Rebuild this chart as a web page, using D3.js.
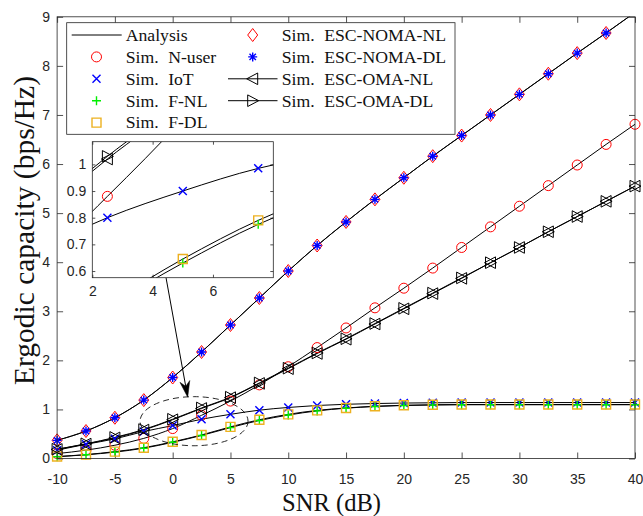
<!DOCTYPE html>
<html>
<head>
<meta charset="utf-8">
<script src="https://cdn.jsdelivr.net/npm/d3@7/dist/d3.min.js"></script>
<style>
  body { margin: 0; background: #fff; }
  svg { display: block; }
</style>
</head>
<body>
<svg id="chart" width="643" height="516"></svg>
<script>
// SNR grid (dB) shared by every series
const snr = [-10, -7.5, -5, -2.5, 0, 2.5, 5, 7.5, 10, 12.5, 15, 17.5, 20, 22.5, 25, 27.5, 30, 32.5, 35, 37.5, 40];

// Ergodic capacity (bps/Hz)
const escNomaNL = [0.37, 0.56, 0.83, 1.19, 1.65, 2.17, 2.72, 3.27, 3.82, 4.34, 4.82, 5.28, 5.72, 6.16, 6.58, 7.00, 7.42, 7.84, 8.26, 8.67, 9.09];
const escNomaDL = [0.37, 0.56, 0.83, 1.19, 1.65, 2.17, 2.72, 3.27, 3.82, 4.34, 4.82, 5.28, 5.72, 6.16, 6.58, 7.00, 7.42, 7.84, 8.26, 8.67, 9.09];
const nUser     = [0.10, 0.17, 0.27, 0.41, 0.61, 0.88, 1.17, 1.50, 1.87, 2.26, 2.66, 3.07, 3.47, 3.88, 4.30, 4.72, 5.14, 5.56, 5.98, 6.40, 6.81];
const iotUser   = [0.17, 0.29, 0.40, 0.55, 0.67, 0.80, 0.90, 0.985, 1.04, 1.08, 1.105, 1.12, 1.13, 1.135, 1.14, 1.14, 1.14, 1.14, 1.14, 1.14, 1.14];
const fNL       = [0.035, 0.075, 0.13, 0.21, 0.33, 0.47, 0.63, 0.775, 0.885, 0.97, 1.025, 1.06, 1.08, 1.09, 1.095, 1.095, 1.095, 1.095, 1.095, 1.095, 1.095];
const fDL       = [0.04, 0.08, 0.14, 0.22, 0.34, 0.48, 0.645, 0.79, 0.90, 0.98, 1.03, 1.065, 1.085, 1.095, 1.10, 1.10, 1.10, 1.10, 1.10, 1.10, 1.10];
const escOmaNL  = [0.185, 0.295, 0.42, 0.58, 0.79, 1.02, 1.24, 1.53, 1.83, 2.14, 2.43, 2.74, 3.05, 3.36, 3.67, 3.99, 4.30, 4.62, 4.93, 5.24, 5.55];
const escOmaDL  = [0.19, 0.30, 0.43, 0.59, 0.80, 1.03, 1.25, 1.54, 1.84, 2.15, 2.44, 2.75, 3.06, 3.37, 3.68, 3.99, 4.30, 4.62, 4.93, 5.24, 5.55];

// Tick values
const xTicks = [-10, -5, 0, 5, 10, 15, 20, 25, 30, 35, 40];
const yTicks = [0, 1, 2, 3, 4, 5, 6, 7, 8, 9];
const insetXTicks = [2, 4, 6];
const insetYTicks = [0.6, 0.7, 0.8, 0.9, 1];

// Texts
const xLabel = "SNR (dB)";
const yLabel = "Ergodic capacity (bps/Hz)";
const legendCol1 = ["Analysis", "Sim. N-user", "Sim. IoT", "Sim. F-NL", "Sim. F-DL"];
const legendCol2 = ["Sim. ESC-NOMA-NL", "Sim. ESC-NOMA-DL", "Sim. ESC-OMA-NL", "Sim. ESC-OMA-DL"];

// Series: values, marker and colour
const series = [
  { values: nUser,     marker: "o", color: "#ff0000" },
  { values: iotUser,   marker: "x", color: "#0000ff" },
  { values: fNL,       marker: "+", color: "#00ee00" },
  { values: fDL,       marker: "s", color: "#edb120" },
  { values: escNomaNL, marker: "d", color: "#ff0000" },
  { values: escNomaDL, marker: "*", color: "#0000ff" },
  { values: escOmaNL,  marker: "<", color: "#000000" },
  { values: escOmaDL,  marker: ">", color: "#000000" }
];

const svg = d3.select("#chart");
const axisColor = "#262626";
const sansFont = "'Liberation Sans', Arial, Helvetica, sans-serif";
const serifFont = "'Liberation Serif', 'Times New Roman', serif";

// Main axes area
const plot = { left: 57.1, right: 635, top: 16.8, bottom: 458.5 };
const x = d3.scaleLinear().domain([-10, 40]).range([plot.left, plot.right]);
const y = d3.scaleLinear().domain([0, 9]).range([plot.bottom, plot.top]);

// Marker shapes
function markerPath(type) {
  switch (type) {
    case "o": return "M5,0A5,5 0 1,1 -5,0A5,5 0 1,1 5,0Z";
    case "x": return "M-4,-4L4,4M-4,4L4,-4";
    case "+": return "M-4.5,0H4.5M0,-4.5V4.5";
    case "s": return "M-4.5,-4.5H4.5V4.5H-4.5Z";
    case "d": return "M0,-6.5L5,0L0,6.5L-5,0Z";
    case "*": return "M-4.5,0H4.5M0,-4.5V4.5M-3.2,-3.2L3.2,3.2M-3.2,3.2L3.2,-3.2";
    case "<": return "M-6,0L5,-5.8L5,5.8Z";
    case ">": return "M6,0L-5,-5.8L-5,5.8Z";
  }
}
function markerWidth(type) {
  return (type === "x" || type === "+" || type === "*" || type === "s") ? 1.4 : 1;
}
function addMarker(g, type, color, px, py) {
  g.append("path")
    .attr("d", markerPath(type))
    .attr("transform", `translate(${px},${py})`)
    .attr("fill", "none")
    .attr("stroke", color)
    .attr("stroke-width", markerWidth(type));
}

// Clip for curves
const defs = svg.append("defs");
defs.append("clipPath").attr("id", "plotClip")
  .append("rect").attr("x", plot.left).attr("y", plot.top)
  .attr("width", plot.right - plot.left).attr("height", plot.bottom - plot.top);

// Axes (ticks inward on all four sides)
const tickLen = 6;
const fmt = d => String(d);

const gx = svg.append("g").attr("transform", `translate(0,${plot.bottom})`)
  .call(d3.axisBottom(x).tickValues(xTicks).tickFormat(fmt).tickSizeInner(-tickLen).tickSizeOuter(0).tickPadding(16));
const gxTop = svg.append("g").attr("transform", `translate(0,${plot.top})`)
  .call(d3.axisTop(x).tickValues(xTicks).tickFormat("").tickSizeInner(-tickLen).tickSizeOuter(0));
const gy = svg.append("g").attr("transform", `translate(${plot.left},0)`)
  .call(d3.axisLeft(y).tickValues(yTicks).tickFormat(fmt).tickSizeInner(-tickLen).tickSizeOuter(0).tickPadding(7));
const gyRight = svg.append("g").attr("transform", `translate(${plot.right},0)`)
  .call(d3.axisRight(y).tickValues(yTicks).tickFormat("").tickSizeInner(-tickLen).tickSizeOuter(0));

[gx, gxTop, gy, gyRight].forEach(g => {
  g.select(".domain").remove();
  g.selectAll("line").attr("stroke", axisColor).attr("stroke-width", 0.8);
  g.selectAll("text").attr("fill", axisColor).style("font-family", sansFont).style("font-size", "14px");
});

// Curves
const line = d3.line().x(d => x(d[0])).y(d => y(d[1])).curve(d3.curveMonotoneX);
const curves = svg.append("g").attr("clip-path", "url(#plotClip)");
series.forEach(s => {
  curves.append("path")
    .attr("d", line(snr.map((v, i) => [v, s.values[i]])))
    .attr("fill", "none").attr("stroke", "#000").attr("stroke-width", 1);
});

// Markers (only points inside the axis limits)
const markers = svg.append("g");
series.forEach(s => {
  snr.forEach((v, i) => {
    const val = s.values[i];
    if (val >= 0 && val <= 9) addMarker(markers, s.marker, s.color, x(v), y(val));
  });
});

// Box
svg.append("rect")
  .attr("x", plot.left).attr("y", plot.top)
  .attr("width", plot.right - plot.left).attr("height", plot.bottom - plot.top)
  .attr("fill", "none").attr("stroke", axisColor).attr("stroke-width", 0.8);

// Axis labels
svg.append("text")
  .attr("x", 331.5).attr("y", 510.5)
  .attr("text-anchor", "middle")
  .attr("textLength", 99).attr("lengthAdjust", "spacingAndGlyphs")
  .style("font-family", serifFont).style("font-size", "26px").attr("fill", "#111")
  .text(xLabel);
svg.append("text")
  .attr("transform", "translate(33.5,230.5) rotate(-90)")
  .attr("text-anchor", "middle")
  .style("font-family", serifFont).style("font-size", "29.5px").attr("fill", "#111")
  .text(yLabel);

// Zoom region ellipse and arrow
const zoomCenter = [1.85, 0.76], zoomRadius = [4.67, 0.5];
svg.append("ellipse")
  .attr("cx", x(zoomCenter[0])).attr("cy", y(zoomCenter[1]))
  .attr("rx", x(zoomCenter[0] + zoomRadius[0]) - x(zoomCenter[0]))
  .attr("ry", y(zoomCenter[1]) - y(zoomCenter[1] + zoomRadius[1]))
  .attr("fill", "none").attr("stroke", "#111").attr("stroke-width", 0.9)
  .attr("stroke-dasharray", "6,4");

const arrowFrom = [-0.58, 3.69], arrowTo = [1.30, 1.25];
(function drawArrow() {
  const x0 = x(arrowFrom[0]), y0 = y(arrowFrom[1]);
  const x1 = x(arrowTo[0]), y1 = y(arrowTo[1]);
  const len = Math.hypot(x1 - x0, y1 - y0);
  const ux = (x1 - x0) / len, uy = (y1 - y0) / len;
  const nx = -uy, ny = ux;
  const headLen = 16, halfW = 5, notch = 11;
  const bx = x1 - headLen * ux, by = y1 - headLen * uy;
  const cx = x1 - notch * ux, cy = y1 - notch * uy;
  svg.append("line")
    .attr("x1", x0).attr("y1", y0).attr("x2", cx).attr("y2", cy)
    .attr("stroke", "#000").attr("stroke-width", 1);
  svg.append("path")
    .attr("d", `M${x1},${y1}L${bx + halfW * nx},${by + halfW * ny}L${cx},${cy}L${bx - halfW * nx},${by - halfW * ny}Z`)
    .attr("fill", "#000").attr("stroke", "#000").attr("stroke-width", 0.5);
})();

// Legend
const legend = svg.append("g");
legend.append("rect")
  .attr("x", 66.7).attr("y", 22.7).attr("width", 388.3).attr("height", 111.6)
  .attr("fill", "#fff").attr("stroke", axisColor).attr("stroke-width", 0.8);
const rowY = i => 35 + 21.9 * i;
function legendText(label, tx, ty) {
  const t = legend.append("text").attr("x", tx).attr("y", ty + 5.8)
    .style("font-family", serifFont).style("font-size", "17.7px").attr("fill", "#111");
  const k = label.indexOf(" ");
  if (k < 0) { t.text(label); return; }
  t.append("tspan").text(label.slice(0, k));
  t.append("tspan").attr("dx", 9.5).text(label.slice(k + 1));
}
const col1Marks = [null, "o", "x", "+", "s"];
const col1Colors = [null, "#ff0000", "#0000ff", "#00ee00", "#edb120"];
legendCol1.forEach((lab, i) => {
  const ry = rowY(i);
  if (i === 0) {
    legend.append("line").attr("x1", 71.7).attr("x2", 121.7).attr("y1", ry).attr("y2", ry)
      .attr("stroke", "#000").attr("stroke-width", 1);
  } else {
    addMarker(legend, col1Marks[i], col1Colors[i], 96.5, ry);
  }
  legendText(lab, 125.7, ry);
});
const col2Marks = ["d", "*", "<", ">"];
const col2Colors = ["#ff0000", "#0000ff", "#000000", "#000000"];
legendCol2.forEach((lab, i) => {
  const ry = rowY(i);
  if (i >= 2) {
    legend.append("line").attr("x1", 228).attr("x2", 277.5).attr("y1", ry).attr("y2", ry)
      .attr("stroke", "#000").attr("stroke-width", 1);
  }
  addMarker(legend, col2Marks[i], col2Colors[i], 252.7, ry);
  legendText(lab, 281.7, ry);
});

// Inset (zoomed view)
const inset = { left: 92.3, top: 141.7, width: 181, height: 136 };
const xi = d3.scaleLinear().domain([2, 8]).range([0, inset.width]);
const yi = d3.scaleLinear().domain([0.575, 1.085]).range([inset.height, 0]);
const gi = svg.append("g").attr("transform", `translate(${inset.left},${inset.top})`);
defs.append("clipPath").attr("id", "insetClip")
  .append("rect").attr("x", 0).attr("y", 0).attr("width", inset.width).attr("height", inset.height);
gi.append("rect").attr("width", inset.width).attr("height", inset.height).attr("fill", "#fff");

const insetTick = 3;
const gix = gi.append("g").attr("transform", `translate(0,${inset.height})`)
  .call(d3.axisBottom(xi).tickValues(insetXTicks).tickFormat(fmt).tickSizeInner(-insetTick).tickSizeOuter(0).tickPadding(8));
const gixTop = gi.append("g")
  .call(d3.axisTop(xi).tickValues(insetXTicks).tickFormat("").tickSizeInner(-insetTick).tickSizeOuter(0));
const giy = gi.append("g")
  .call(d3.axisLeft(yi).tickValues(insetYTicks).tickFormat(fmt).tickSizeInner(-insetTick).tickSizeOuter(0).tickPadding(6));
const giyRight = gi.append("g").attr("transform", `translate(${inset.width},0)`)
  .call(d3.axisRight(yi).tickValues(insetYTicks).tickFormat("").tickSizeInner(-insetTick).tickSizeOuter(0));
[gix, gixTop, giy, giyRight].forEach(g => {
  g.select(".domain").remove();
  g.selectAll("line").attr("stroke", axisColor).attr("stroke-width", 0.8);
  g.selectAll("text").attr("fill", axisColor).style("font-family", sansFont).style("font-size", "14px");
});

const lineInset = d3.line().x(d => xi(d[0])).y(d => yi(d[1])).curve(d3.curveMonotoneX);
const insetCurves = gi.append("g").attr("clip-path", "url(#insetClip)");
series.forEach(s => {
  insetCurves.append("path")
    .attr("d", lineInset(snr.map((v, i) => [v, s.values[i]])))
    .attr("fill", "none").attr("stroke", "#000").attr("stroke-width", 1);
});
const insetMarks = gi.append("g");
series.forEach(s => {
  snr.forEach((v, i) => {
    const val = s.values[i];
    if (v >= 2 && v <= 8 && val >= 0.575 && val <= 1.085) addMarker(insetMarks, s.marker, s.color, xi(v), yi(val));
  });
});
gi.append("rect").attr("width", inset.width).attr("height", inset.height)
  .attr("fill", "none").attr("stroke", axisColor).attr("stroke-width", 0.8);
</script>
</body>
</html>
